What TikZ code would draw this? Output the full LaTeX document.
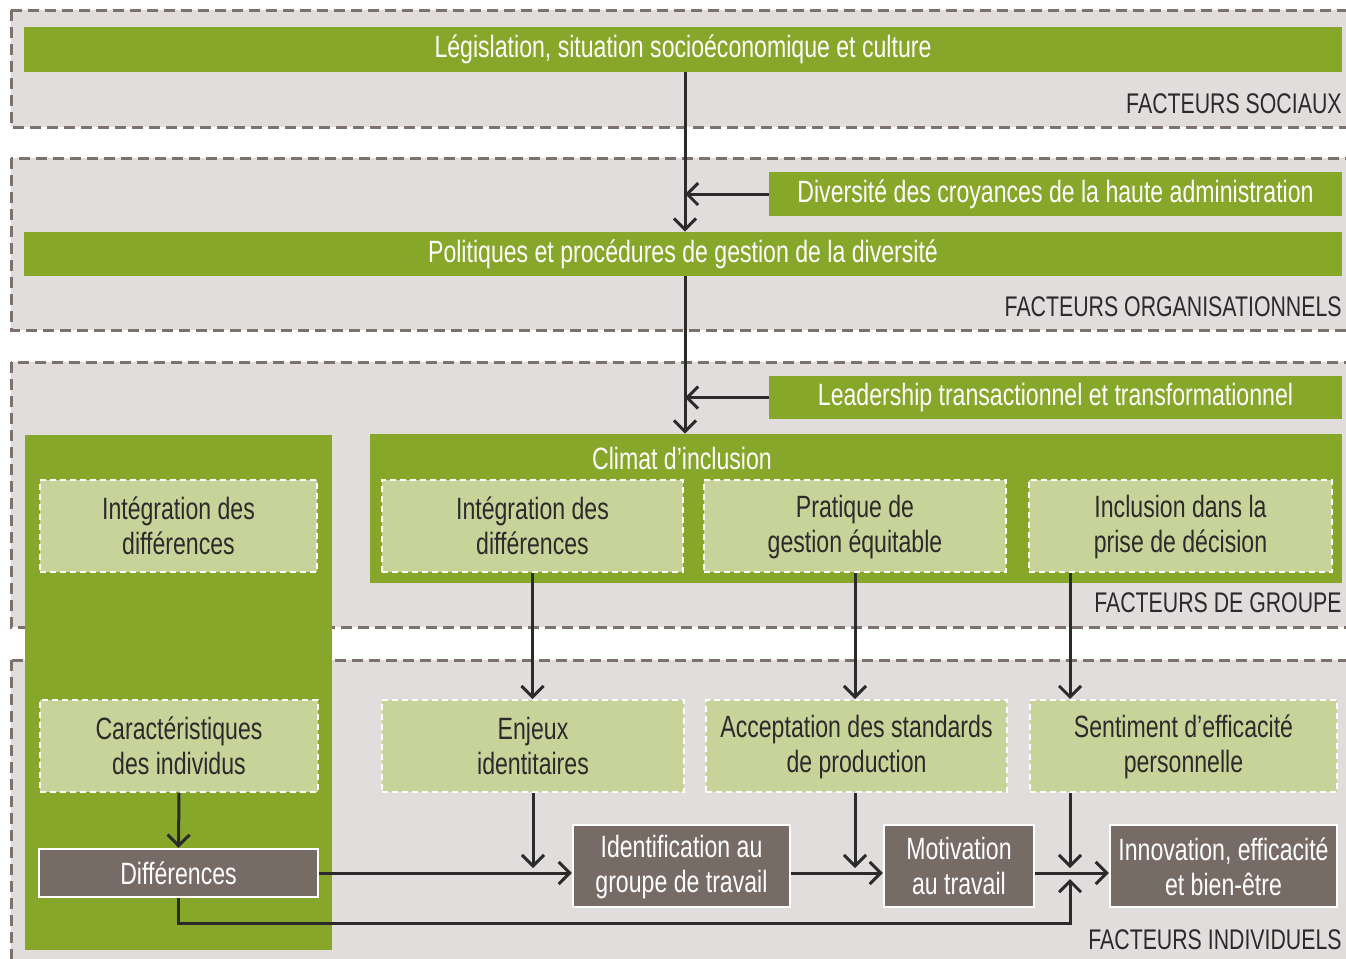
\documentclass[tikz,border=0pt]{standalone}
\usepackage{fontspec}
\setmainfont{Liberation Sans}[FakeStretch=0.75]
\usepackage{tikz}
\usetikzlibrary{positioning, arrows.meta, calc}
\usepackage{xcolor}

\definecolor{leafgreen}{HTML}{86A729}
\definecolor{palegreen}{HTML}{C8D39A}
\definecolor{bandgray}{HTML}{E0DDDC}
\definecolor{dashgray}{HTML}{7D716D}
\definecolor{taupe}{HTML}{776B66}
\definecolor{inkgray}{HTML}{2B2B2B}

\begin{document}
\begin{tikzpicture}[
    x=0.5pt, y=-0.5pt,
    % Base styles
    basebox/.style={inner sep=0pt, align=center, font=\fontsize{15.4}{17.5}\selectfont},
    % Grey bands for each level
    band/.style={fill=bandgray, draw=dashgray, line width=1.5pt, dash pattern=on 5.5pt off 3pt},
    % Solid green bars
    greenbar/.style={basebox, fill=leafgreen, text=white},
    % Light green boxes with white dashed border
    softbox/.style={basebox, fill=palegreen, draw=white, line width=1pt, dash pattern=on 3pt off 2pt,
        minimum height=46pt, text=inkgray},
    % Taupe boxes for individual outcomes
    resultbox/.style={basebox, fill=taupe, draw=white, line width=1.2pt, text=white},
    % Level captions
    levellabel/.style={anchor=east, inner sep=0pt, font=\fontsize{14.2}{17}\selectfont, text=inkgray},
    % Arrow style
    arrow/.style={-{Straight Barb[length=5.5pt, width=11pt]}, line width=1.5pt, draw=inkgray},
]
\clip (0,0) rectangle (1346,959);

% Level bands
\path[band] (11,10) rectangle (1370,127);
\path[band] (11,158) rectangle (1370,330);
\path[band] (11,362) rectangle (1370,627);
\path[band] (11,660) rectangle (1370,990);

% Social level
\node[greenbar, minimum width=659pt, minimum height=22.5pt] (legis) at (683,49.5)
    {Législation, situation socioéconomique et culture};
\node[levellabel] (socl) at (1342,104) {FACTEURS SOCIAUX};

% Organisational level
\node[greenbar, minimum width=286.5pt, minimum height=22pt] (croy) at (1055.5,194)
    {Diversité des croyances de la haute administration};
\node[greenbar, minimum width=659pt, minimum height=22pt] (polit) at (683,254)
    {Politiques et procédures de gestion de la diversité};
\node[levellabel] (orgl) at (1342,307) {FACTEURS ORGANISATIONNELS};

% Group level
\node[greenbar, minimum width=286.5pt, minimum height=21.5pt] (leader) at (1055.5,397.5)
    {Leadership transactionnel et transformationnel};
\node[greenbar, minimum width=153.5pt, minimum height=257.5pt] (panel) at (178.5,692.5) {};
\node[greenbar, minimum width=486pt, minimum height=74.5pt] (climat) at (856,508.5) {};
\node[basebox, text=white] (climatl) at (682,458) {Climat d’inclusion};

\node[softbox, minimum width=138.5pt] (integl) at (178.5,526) {Intégration des\\différences};
\node[softbox, minimum width=150.5pt] (integ) at (532.5,526) {Intégration des\\différences};
\node[softbox, minimum width=151pt] (prat) at (855,526) {\strut Pratique de\\gestion équitable};
\node[softbox, minimum width=151.5pt] (incl) at (1180.5,526) {\strut Inclusion dans la\\prise de décision};
\node[levellabel] (grpl) at (1342,603) {FACTEURS DE GROUPE};

% Individual level
\node[softbox, minimum width=139pt] (caract) at (179,746) {Caractéristiques\\des individus};
\node[softbox, minimum width=151pt] (enjeux) at (533,746) {Enjeux\\identitaires};
\node[softbox, minimum width=150.5pt] (accept) at (856.5,746) {\strut Acceptation des standards\\de production};
\node[softbox, minimum width=153.5pt] (sentim) at (1183.5,746) {\strut Sentiment d’efficacité\\personnelle};

\node[resultbox, minimum width=139.5pt, minimum height=24pt] (diff) at (178.5,873) {Différences};
\node[resultbox, minimum width=108.5pt, minimum height=41pt] (ident) at (681.5,866) {\strut Identification au\\groupe de travail};
\node[resultbox, minimum width=75pt, minimum height=41pt] (motiv) at (959,866) {Motivation\\au travail};
\node[resultbox, minimum width=113.5pt, minimum height=41pt] (innov) at (1223.5,866) {\strut Innovation, efficacité\\et bien-être};
\node[levellabel] (indl) at (1342,940) {FACTEURS INDIVIDUELS};

% Junction points
\coordinate (spine) at (685,0);
\coordinate (join) at (1070,873);

% Top-down flow
\draw[arrow] (legis.south -| spine) -- (polit.north -| spine);
\draw[arrow] (croy.west) -- (croy.west -| spine);
\draw[arrow] (polit.south -| spine) -- (climat.north -| spine);
\draw[arrow] (leader.west) -- (leader.west -| spine);

% Climate to individual stakes
\draw[arrow] (integ.south) -- (enjeux.north -| integ.south);
\draw[arrow] (prat.south) -- (accept.north -| prat.south);
\draw[arrow] (incl.south -| join) -- (sentim.north -| join);
\draw[arrow] (caract.south) -- (diff.north);

% Individual chain
\draw[arrow] (diff.east) -- (diff.east -| ident.west);
\draw[arrow] (ident.east |- diff.east) -- (diff.east -| motiv.west);
\draw[arrow] (motiv.east |- diff.east) -- (diff.east -| innov.west);
\draw[arrow] (enjeux.south) -- ($(enjeux.south |- diff.east)+(0,-5)$);
\draw[arrow] (accept.south -| prat.south) -- ($(prat.south |- diff.east)+(0,-5)$);
\draw[arrow] (sentim.south -| join) -- ($(join)+(0,-5)$);
\draw[arrow] (diff.south) -- ++(0,25) -| ($(join)+(0,6)$);

\end{tikzpicture}
\end{document}
